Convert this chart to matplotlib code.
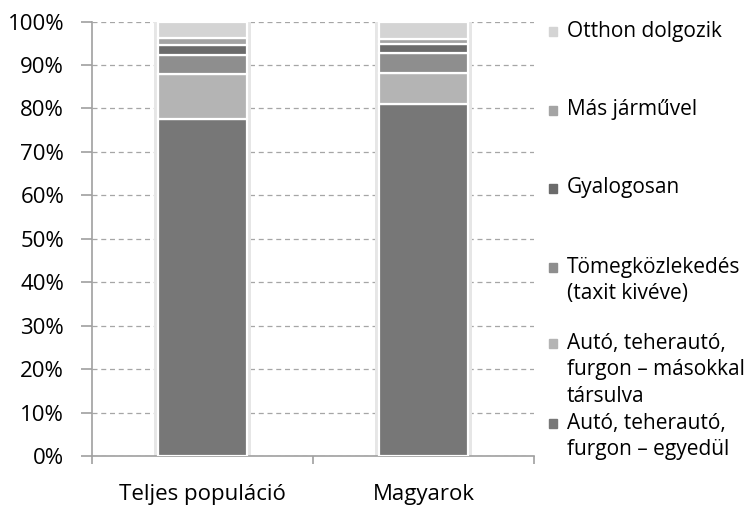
import numpy as np
import matplotlib
matplotlib.use("Agg")
import matplotlib.pyplot as plt

plt.rcParams['font.family'] = ['Open Sans', 'DejaVu Sans']

categories = ["Teljes populáció", "Magyarok"]
series = ["Autó, teherautó,\nfurgon – egyedül",
          "Autó, teherautó,\nfurgon – másokkal\ntársulva",
          "Tömegközlekedés\n(taxit kivéve)",
          "Gyalogosan",
          "Más járművel",
          "Otthon dolgozik"]
egyedul = [77.6, 81.1]
masokkal = [10.3, 7.1]
tomeg = [4.5, 4.6]
gyalog = [2.3, 2.0]
mas = [1.5, 1.2]
otthon = [3.8, 4.0]
values = [egyedul, masokkal, tomeg, gyalog, mas, otthon]
colors = ["#777777", "#b4b4b4", "#8e8e8e", "#6b6b6b", "#a4a4a4", "#d4d4d4"]
yticks = [0, 10, 20, 30, 40, 50, 60, 70, 80, 90, 100]

fig = plt.figure(figsize=(7.48, 5.12), dpi=100)
ax = fig.add_axes([0.123, 0.109, 0.591, 0.849])

x = np.arange(len(categories))
width = 0.40

# soft shadow behind bars
ax.bar(x, 100, width + 0.035, color="#e6e6e6", zorder=2)
ax.bar(x, 100, width + 0.015, color="#cfcfcf", zorder=2)

bottom = np.zeros(len(categories))
for vals, col in zip(values, colors):
    ax.bar(x, vals, width, bottom=bottom, color=col, edgecolor="white",
           linewidth=1.6, zorder=3)
    bottom += np.array(vals)

ax.set_xlim(-0.5, 1.5)
ax.set_ylim(0, 100)
ax.set_yticks(yticks)
ax.set_yticklabels([f"{t}%" for t in yticks])
ax.set_xticks(x)
ax.set_xticklabels(categories)
ax.set_xticks([-0.5, 0.5, 1.5], minor=True)

ax.yaxis.grid(True, linestyle=(0, (4, 3)), color="#a6a6a6", linewidth=0.9, zorder=0)
for s in ["top", "right"]:
    ax.spines[s].set_visible(False)
for s in ["left", "bottom"]:
    ax.spines[s].set_color("#a0a0a0")
    ax.spines[s].set_linewidth(1.2)

ax.tick_params(axis="y", length=8, width=1.2, color="#a0a0a0", labelsize=16, pad=12,
               labelcolor="black")
ax.tick_params(axis="x", which="major", length=0, labelsize=16, pad=20, labelcolor="black")
ax.tick_params(axis="x", which="minor", length=6, width=1.2, color="#a0a0a0")

# legend drawn manually on the right
W, H = 748, 512
entry_y = [423, 343, 267, 188, 110, 31]
line_step = 27
for label, col, ey in zip(series, colors, entry_y):
    fig.patches.append(plt.Rectangle(((549) / W, 1 - (ey + 4.5) / H), 8 / W, 9 / H,
                                     transform=fig.transFigure, color=col))
    for i, line in enumerate(label.split("\n")):
        fig.text(567 / W, 1 - (ey + i * line_step) / H, line, fontsize=15,
                 va="center", ha="left", color="black")

fig.savefig("out.png", dpi=100)
